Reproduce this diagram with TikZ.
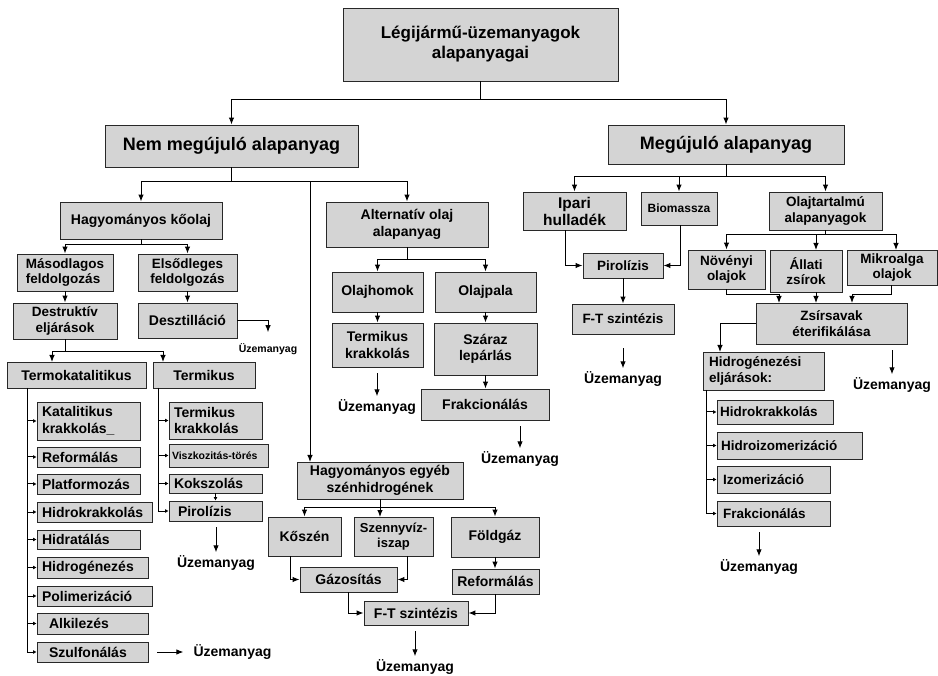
\documentclass[tikz,border=0pt]{standalone}
\usepackage{fontspec}
\setmainfont{Liberation Sans}
\usetikzlibrary{arrows.meta}

\definecolor{boxfill}{RGB}{212,212,212}
\definecolor{boxline}{RGB}{40,40,40}
\newcommand{\fz}[2]{\bfseries\fontsize{#1}{#2}\selectfont}

\begin{document}
\begin{tikzpicture}[x=1pt, y=-1pt,
	box/.style={draw=boxline, fill=boxfill, line width=0.9pt, inner sep=1pt, align=center, font=\fz{14}{16.5}},
	lbox/.style={box, align=left, inner xsep=5pt},
	sz/.style 2 args={minimum width=#1, minimum height=#2},
	line/.style={line width=1pt, draw=black},
	arr/.style={line, -{Latex[length=7pt,width=5.5pt]}},
	tip/.style={line, -{Latex[length=3.5pt,width=4pt]}},
	fuel/.style={inner sep=0, font=\fz{14}{16}},
	farr/.style={arr, shorten <=6pt, shorten >=3pt}]

		\useasboundingbox (0,0) rectangle (938,676);

		% top levels
		\node (tt) at (480.5,44.5) [box, sz={275}{73}, font=\fz{17}{20}] {Légijármű-üzemanyagok\\alapanyagai};
		\node (nem) at (231.5,146) [box, sz={253}{42}, font=\fz{18}{20}] {Nem megújuló alapanyag};
		\node (meg) at (726,144.5) [box, sz={236}{39}, font=\fz{18}{20}] {Megújuló alapanyag};

		% nem megujulo
		\node (hk) at (141,220.5) [box, sz={162}{37}] {Hagyományos kőolaj};
		\node (alt) at (407,224.5) [box, sz={162}{45}] {Alternatív olaj\\alapanyag};
		\node (mas) at (65,272.5) [box, sz={96}{37}, align=left, font=\fz{13.5}{15.5}] {Másodlagos\\feldolgozás};
		\node (els) at (187.5,272.5) [box, sz={99}{37}, font=\fz{13.5}{15.5}] {Elsődleges\\feldolgozás};
		\node (des) at (65,321) [box, sz={104}{36}, font=\fz{13.5}{15.5}] {Destruktív\\eljárások};
		\node (dsz) at (187.5,320.5) [box, sz={99}{35}] {Desztilláció};
		\node (tk) at (76.5,375) [box, sz={139}{26}] {Termokatalitikus};
		\node (tm) at (204,375) [box, sz={102}{26}] {Termikus};

		\node (kk) at (88.5,421) [lbox, text width=93pt, minimum height=38] {Katalitikus\\krakkolás\_};
		\node (ref1) at (88.5,457) [lbox, text width=93pt, minimum height=20] {Reformálás};
		\node (pla) at (88.5,484) [lbox, text width=93pt, minimum height=20] {Platformozás};
		\node (hkr) at (94.5,512) [lbox, text width=105pt, minimum height=20] {Hidrokrakkolás};
		\node (hid) at (88.5,539.5) [lbox, text width=93pt, minimum height=19] {Hidratálás};
		\node (hge) at (92.5,567.5) [lbox, text width=101pt, minimum height=21] {Hidrogénezés};
		\node (pol) at (94.5,596) [lbox, text width=105pt, minimum height=20] {Polimerizáció};
		\node (alk) at (92.5,623.5) [lbox, inner xsep=12pt, text width=87pt, minimum height=21] {Alkilezés};
		\node (szu) at (92.5,652) [lbox, inner xsep=12pt, text width=87pt, minimum height=20] {Szulfonálás};

		\node (tkk) at (215.5,420.5) [lbox, text width=83pt, minimum height=37] {Termikus\\krakkolás};
		\node (vis) at (218.5,455.5) [lbox, inner xsep=3pt, text width=93pt, minimum height=23, font=\fz{10.5}{12}] {Viszkozitás-törés};
		\node (kok) at (215.5,483.5) [lbox, text width=83pt, minimum height=19] {Kokszolás};
		\node (pir1) at (215.5,511) [lbox, inner xsep=9pt, text width=75pt, minimum height=20] {Pirolízis};

		\node (ojh) at (377.5,292) [box, sz={91}{40}] {Olajhomok};
		\node (ojp) at (485.5,292) [box, sz={101}{40}] {Olajpala};
		\node (tkr2) at (377.5,345) [box, sz={91}{44}] {Termikus\\krakkolás};
		\node (szl) at (485.5,349) [box, sz={103}{52}] {Száraz\\lepárlás};
		\node (frk) at (485,404.5) [box, sz={128}{31}] {Frakcionálás};

		\node (heg) at (380,480.5) [box, sz={166}{37}] {Hagyományos egyéb\\szénhidrogének};
		\node (ksz) at (304.5,536.5) [box, sz={73}{39}] {Kőszén};
		\node (szv) at (393.5,536.5) [box, sz={79}{39}, font=\fz{13}{15}] {Szennyvíz-\\iszap};
		\node (fgz) at (495,537) [box, sz={88}{40}] {Földgáz};
		\node (gaz) at (348.5,579.5) [box, sz={97}{25}] {Gázosítás};
		\node (ref2) at (495.5,581.5) [box, sz={87}{25}] {Reformálás};
		\node (ft1) at (416,613) [box, sz={104}{24}] {F-T szintézis};

		% megujulo
		\node (ip) at (574.5,211) [box, sz={103}{38}, font=\fz{15.5}{17}] {Ipari\\hulladék};
		\node (bio) at (679,208.5) [box, sz={76}{33}, font=\fz{12}{14}] {Biomassza};
		\node (olt) at (825.5,211) [box, sz={113}{38}, font=\fz{13.5}{15.5}] {Olajtartalmú\\alapanyagok};
		\node (pir2) at (623,265.5) [box, sz={80}{25}, font=\fz{13.5}{15.5}] {Pirolízis};
		\node (ft2) at (623,319) [box, sz={102}{30}, font=\fz{13.5}{15.5}] {F-T szintézis};
		\node (nov) at (726.5,269.5) [box, sz={77}{39}, font=\fz{13.5}{15.5}] {Növényi\\olajok};
		\node (all) at (806,271) [box, sz={72}{42}, font=\fz{13.5}{15.5}] {Állati\\zsírok};
		\node (mik) at (892,267.5) [box, sz={90}{35}, font=\fz{13.5}{15.5}] {Mikroalga\\olajok};
		\node (zsr) at (831.5,323.5) [box, sz={151}{41}, font=\fz{13.5}{15.5}] {Zsírsavak\\éterifikálása};
		\node (hgz) at (763.5,371) [lbox, inner xsep=6pt, text width=109pt, minimum height=38, font=\fz{13.5}{15.5}] {Hidrogénezési\\eljárások:};

		\node (hk2) at (775,412) [lbox, inner xsep=3pt, text width=110pt, minimum height=24, font=\fz{13.5}{15.5}] {Hidrokrakkolás};
		\node (hiz) at (789.5,445.5) [lbox, inner xsep=4pt, text width=137pt, minimum height=27, font=\fz{13.5}{15.5}] {Hidroizomerizáció};
		\node (izo) at (773.5,479.5) [lbox, inner xsep=6pt, text width=101pt, minimum height=27, font=\fz{13.5}{15.5}] {Izomerizáció};
		\node (frk2) at (773.5,513.5) [lbox, inner xsep=6pt, text width=101pt, minimum height=25, font=\fz{13.5}{15.5}] {Frakcionálás};

		% uzemanyag labels
		\node (u0) at (232.5,652) [fuel] {Üzemanyag};
		\node (u1) at (268,349) [fuel, font=\fz{10.5}{12}] {Üzemanyag};
		\node (u2) at (216,563) [fuel] {Üzemanyag};
		\node (u3) at (377,407) [fuel] {Üzemanyag};
		\node (u4) at (520,459) [fuel] {Üzemanyag};
		\node (u5) at (415,667) [fuel] {Üzemanyag};
		\node (u6) at (623,379) [fuel] {Üzemanyag};
		\node (u7) at (892,385) [fuel] {Üzemanyag};
		\node (u8) at (759,567) [fuel] {Üzemanyag};

		% junctions
		\coordinate (j0) at (480.5,100);
		\coordinate (j1) at (231.5,182);
		\coordinate (j2) at (141,245);
		\coordinate (j3) at (65,352);
		\coordinate (j4) at (407,260);
		\coordinate (j5) at (380,507);
		\coordinate (j6) at (726,177);
		\coordinate (j7) at (825.5,235);
		\coordinate (heg1) at (310,462);
		\coordinate (tk1) at (52,362);
		\coordinate (tm1) at (163,362);
		\coordinate (szv1) at (380,517);
		\coordinate (all1) at (816,250);
		\coordinate (mik1) at (896,250);
		\coordinate (z1) at (779,303);
		\coordinate (z2) at (816,303);
		\coordinate (z3) at (852,303);
		\coordinate (z4) at (720,352);
		\coordinate (b1) at (27,388);
		\coordinate (b2) at (158,388);
		\coordinate (b3) at (706,390);

		\draw[line] (tt.south) -- (j0);
		\draw[arr] (j0) -| (nem.north);
		\draw[arr] (j0) -| (meg.north);

		\draw[line] (nem.south) -- (j1);
		\draw[arr] (j1) -| (hk.north);
		\draw[arr] (j1) -| (alt.north);
		\draw[arr] (j1 -| heg1) -- (heg1);

		\draw[line] (hk.south) -- (j2);
		\draw[arr] (j2) -| (mas.north);
		\draw[arr] (j2) -| (els.north);
		\draw[arr] (mas.south) -- (des.north);
		\draw[arr] (els.south) -- (dsz.north);
		\draw[arr, shorten >=11pt] (dsz.east) -| (u1.north);

		\draw[line] (des.south) -- (j3);
		\draw[arr] (j3) -| (tk1);
		\draw[arr] (j3) -| (tm1);

		\draw[tip] (b1) |- (szu.west);
		\foreach \n in {kk,ref1,pla,hkr,hid,hge,pol,alk}
			\draw[tip] (b1 |- \n.west) -- (\n.west);
		\draw[arr] ([xshift=9pt]szu.east) -- ([xshift=-10pt]u0.west);

		\draw[tip] (b2) |- (pir1.west);
		\foreach \n in {tkk,vis,kok}
			\draw[tip] (b2 |- \n.west) -- (\n.west);
		\draw[tip] (kok.south) -- (pir1.north);
		\draw[farr] (u2.north |- pir1.south) -- (u2.north);

		\draw[line] (alt.south) -- (j4);
		\draw[arr] (j4) -| (ojh.north);
		\draw[arr] (j4) -| (ojp.north);
		\draw[arr] (ojh.south) -- (tkr2.north);
		\draw[arr] (ojp.south) -- (szl.north);
		\draw[arr] (szl.south) -- (szl.south |- frk.north);
		\draw[farr] (u3.north |- tkr2.south) -- (u3.north);
		\draw[farr] (u4.north |- frk.south) -- (u4.north);

		\draw[line] (heg.south) -- (j5);
		\draw[arr] (j5) -| (ksz.north);
		\draw[arr] (j5) -- (szv1);
		\draw[arr] (j5) -| (fgz.north);
		\draw[arr] ([xshift=-14.5pt]ksz.south) |- (gaz.west);
		\draw[arr] ([xshift=13.5pt]szv.south) |- (gaz.east);
		\draw[arr] (fgz.south) -- (fgz.south |- ref2.north);
		\draw[arr] (gaz.south) |- (ft1.west);
		\draw[arr] (ref2.south) |- (ft1.east);
		\draw[farr] (u5.north |- ft1.south) -- (u5.north);

		\draw[line] (meg.south) -- (j6);
		\draw[arr] (j6) -| (ip.north);
		\draw[arr] (j6) -| (bio.north);
		\draw[arr] (j6) -| (olt.north);
		\draw[arr] ([xshift=-9.5pt]ip.south) |- (pir2.west);
		\draw[arr] ([xshift=1pt]bio.south) |- (pir2.east);
		\draw[arr] (pir2.south) -- (ft2.north);
		\draw[farr, shorten <=14pt] (u6.north |- ft2.south) -- (u6.north);

		\draw[line] (olt.south) -- (j7);
		\draw[arr] (j7) -| (nov.north);
		\draw[arr] (j7) -| (all1);
		\draw[arr] (j7) -| (mik1);
		\draw[arr] (nov.south) |- ([yshift=8pt]z1) -- (z1);
		\draw[arr] (z2 |- all.south) -- (z2);
		\draw[arr] ([xshift=-1pt]mik.south) |- ([yshift=8pt]z3) -- (z3);
		\draw[arr] (zsr.west) -| (z4);
		\draw[farr] (u7.north |- zsr.south) -- (u7.north);

		\draw[tip] (b3) |- (frk2.west);
		\foreach \n in {hk2,hiz,izo}
			\draw[tip] (b3 |- \n.west) -- (\n.west);
		\draw[farr] (u8.north |- frk2.south) -- (u8.north);

	\end{tikzpicture}
\end{document}
